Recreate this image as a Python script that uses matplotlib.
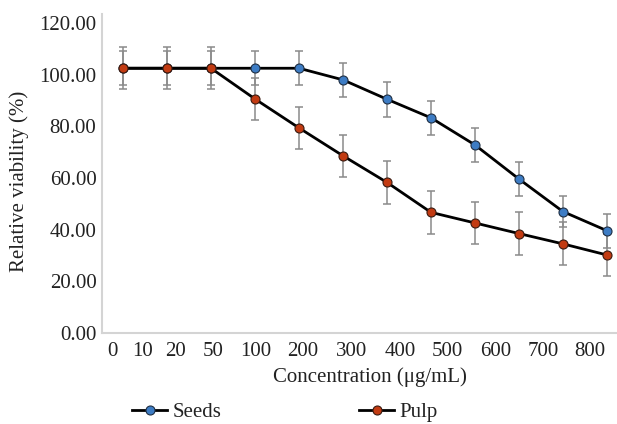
import matplotlib
matplotlib.use("Agg")
import matplotlib.pyplot as plt
import numpy as np

# ---- data ----
categories = ["0", "10", "20", "50", "100", "200", "300", "400", "500", "600", "700", "800"]
seeds = [102.5, 102.5, 102.5, 102.5, 102.5, 98.0, 90.5, 83.3, 72.8, 59.6, 47.0, 39.6]
seeds_err = [6.5, 6.5, 6.5, 6.5, 6.5, 6.6, 6.7, 6.7, 6.6, 6.7, 6.0, 6.5]
pulp = [102.5, 102.5, 102.5, 90.6, 79.4, 68.6, 58.3, 46.7, 42.6, 38.5, 34.5, 30.2]
pulp_err = [8.2, 8.2, 8.2, 8.1, 8.0, 8.2, 8.3, 8.2, 8.0, 8.2, 8.3, 8.3]
yticks = [0, 20, 40, 60, 80, 100, 120]

# ---- layout (label positions as they appear in the original, in category units) ----
label_pos = [-0.25, 0.45, 1.20, 2.05, 3.02, 4.09, 5.20, 6.30, 7.36, 8.48, 9.55, 10.61]

plt.rcParams['font.family'] = ['Liberation Serif', 'DejaVu Serif']

W, H = 617, 424
fig = plt.figure(figsize=(W / 100, H / 100), dpi=100)
ax = fig.add_axes([102 / W, (H - 333) / H, (617 - 102) / W, (333 - 14) / H])

x = np.arange(len(categories))
blue = '#3d7cc4'
red = '#c23b12'
errc = '#8a8a8a'

ax.errorbar(x, seeds, yerr=seeds_err, fmt='none', ecolor=errc, elinewidth=1.1,
            capsize=3, capthick=1.1, zorder=2)
ax.errorbar(x, pulp, yerr=pulp_err, fmt='none', ecolor=errc, elinewidth=1.1,
            capsize=3, capthick=1.1, zorder=2)
ax.plot(x, seeds, color='black', lw=2.0, marker='o', ms=6.5, mfc=blue, mec='#1f2f44',
        mew=0.8, zorder=3, label='Seeds')
ax.plot(x, pulp, color='black', lw=2.0, marker='o', ms=6.5, mfc=red, mec='#3a1a10',
        mew=0.8, zorder=4, label='Pulp')

ax.set_xlim(-21 / 44, (617 - 123) / 44)
ax.set_ylim(0, 123.5)
ax.set_yticks(yticks)
ax.set_yticklabels([f"{v:.2f}" for v in yticks])
ax.set_xticks(label_pos)
ax.set_xticklabels(categories)
ax.tick_params(axis='both', length=0, labelsize=15, colors='#222222')
ax.tick_params(axis='y', pad=4)
ax.tick_params(axis='x', pad=6.5)

for s in ['top', 'right']:
    ax.spines[s].set_visible(False)
for s in ['left', 'bottom']:
    ax.spines[s].set_color('#d4d4d4')
    ax.spines[s].set_linewidth(1.5)

fig.text(370 / W, (H - 377) / H, 'Concentration (μg/mL)', ha='center', va='center',
         fontsize=15, color='#222222')
fig.text(19 / W, (H - 181) / H, 'Relative viability (%)', ha='center', va='center',
         rotation=90, fontsize=15, color='#222222')

leg = fig.legend(loc='center', bbox_to_anchor=(285 / W, (H - 412) / H), ncol=2,
                 frameon=False, fontsize=15, handlelength=1.7, handletextpad=0.25,
                 columnspacing=6.6, borderaxespad=0, borderpad=0)
for t in leg.get_texts():
    t.set_color('#222222')

fig.savefig('out.png', dpi=100)
